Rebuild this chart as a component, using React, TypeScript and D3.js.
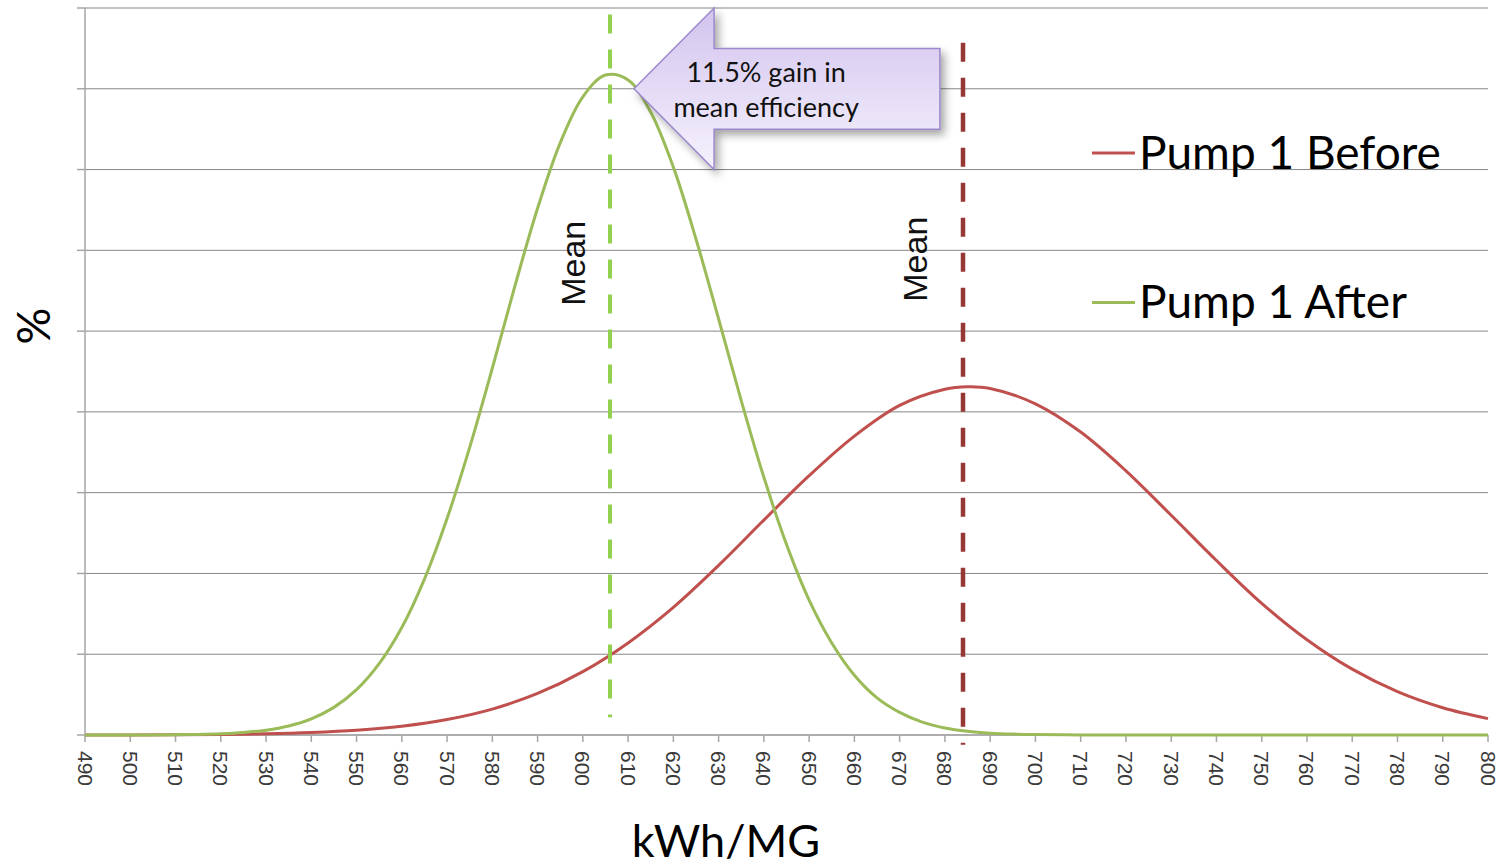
import React from 'react';
import * as d3 from 'd3';

// ---- data ----
const xTickValues = [490, 500, 510, 520, 530, 540, 550, 560, 570, 580, 590, 600, 610, 620, 630, 640, 650, 660, 670, 680, 690, 700, 710, 720, 730, 740, 750, 760, 770, 780, 790, 800];
const yGridValues = [0, 1, 2, 3, 4, 5, 6, 7, 8, 9];

const beforeX = [490, 500, 510, 520, 530, 540, 550, 560, 570, 580, 590, 600, 610, 620, 630, 640, 650, 660, 670, 680, 685, 690, 700, 710, 720, 730, 740, 750, 760, 770, 780, 790, 800];
const beforePct = [0.001, 0.001, 0.003, 0.007, 0.015, 0.031, 0.059, 0.109, 0.192, 0.321, 0.514, 0.784, 1.14, 1.58, 2.10, 2.66, 3.21, 3.70, 4.08, 4.28, 4.31, 4.29, 4.10, 3.75, 3.27, 2.72, 2.16, 1.63, 1.18, 0.815, 0.537, 0.338, 0.203];

const afterX = [490, 495, 500, 505, 510, 515, 520, 525, 530, 535, 540, 545, 550, 555, 560, 565, 570, 575, 580, 585, 590, 595, 600, 605, 610, 615, 620, 625, 630, 635, 640, 645, 650, 655, 660, 665, 670, 675, 680, 685, 690, 695, 700, 710, 720, 740, 760, 780, 800];
const afterPct = [0, 0, 0, 0.001, 0.003, 0.007, 0.015, 0.031, 0.06, 0.112, 0.20, 0.342, 0.561, 0.883, 1.33, 1.93, 2.68, 3.56, 4.54, 5.56, 6.52, 7.33, 7.90, 8.17, 8.11, 7.71, 7.03, 6.14, 5.15, 4.14, 3.19, 2.36, 1.67, 1.14, 0.74, 0.46, 0.28, 0.16, 0.087, 0.046, 0.023, 0.011, 0.005, 0.001, 0, 0, 0, 0, 0];

const beforeMean = 684;
const afterMean = 606;

const seriesNames = ['Pump 1 Before', 'Pump 1 After'];
const seriesColors = ['#C0504D', '#9BBB59'];
const meanColors = ['#953735', '#92D050'];

const calloutLines = ['11.5% gain in', 'mean efficiency'];

export default function App() {
  const W = 1505, H = 868;
  const x = d3.scaleLinear().domain([490, 800]).range([85, 1488]);
  const y = d3.scaleLinear().domain([0, 9]).range([735, 8]);

  const line = d3.line<[number, number]>()
    .x(d => x(d[0]))
    .y(d => Math.min(y(0), y(d[1])))
    .curve(d3.curveCatmullRom.alpha(0.5));

  const beforeData = beforeX.map((v, i) => [v, beforePct[i]] as [number, number]);
  const afterData = afterX.map((v, i) => [v, afterPct[i]] as [number, number]);

  // callout arrow, anchored in data units
  const tipX = x(611.3), tipY = y(8.0);
  const headX = x(629), endX = x(678.9);
  const headTop = y(9.0), headBot = y(7.0);
  const shaftTop = y(8.5), shaftBot = y(7.5);
  const arrowPath = `M${tipX},${tipY} L${headX},${headTop} L${headX},${shaftTop} L${endX},${shaftTop} L${endX},${shaftBot} L${headX},${shaftBot} L${headX},${headBot} Z`;

  const labelFont = 'Lato, "Open Sans", sans-serif';
  const tickFont = '"Liberation Sans", Arial, sans-serif';

  return (
    <div style={{ position: 'absolute', left: 0, top: 0 }}>
      <svg width={W} height={H} style={{ display: 'block', background: '#fff' }}>
        <defs>
          <linearGradient id="calloutFill" x1="0" y1="0" x2="0" y2="1">
            <stop offset="0%" stopColor="#D2C4EE" />
            <stop offset="100%" stopColor="#F6F2FD" />
          </linearGradient>
          <filter id="shadow" x="-20%" y="-20%" width="140%" height="150%">
            <feDropShadow dx="4" dy="5" stdDeviation="4" floodColor="#000" floodOpacity="0.35" />
          </filter>
        </defs>

        {/* gridlines */}
        {yGridValues.map(v => (
          <line key={'g' + v} x1={x(490)} x2={x(800)} y1={y(v)} y2={y(v)} stroke="#878787" strokeWidth={1} />
        ))}
        {/* y axis + ticks */}
        <line x1={x(490)} x2={x(490)} y1={y(9)} y2={y(0)} stroke="#A6A6A6" strokeWidth={1.5} />
        {yGridValues.map(v => (
          <line key={'yt' + v} x1={x(490) - 8} x2={x(490)} y1={y(v)} y2={y(v)} stroke="#A6A6A6" strokeWidth={1.5} />
        ))}
        {/* x axis */}
        <line x1={x(490)} x2={x(800)} y1={y(0)} y2={y(0)} stroke="#A6A6A6" strokeWidth={1.5} />
        {xTickValues.map(v => (
          <g key={'xt' + v}>
            <line x1={x(v)} x2={x(v)} y1={y(0)} y2={y(0) + 7} stroke="#A6A6A6" strokeWidth={1.5} />
            <text
              transform={`translate(${x(v)},${y(0) + 16}) rotate(90)`}
              dominantBaseline="central"
              textAnchor="start"
              fontFamily={tickFont}
              fontSize={21}
              fill="#3a3a3a"
            >{v}</text>
          </g>
        ))}

        {/* curves */}
        <path d={line(beforeData) || ''} fill="none" stroke={seriesColors[0]} strokeWidth={3} />
        <path d={line(afterData) || ''} fill="none" stroke={seriesColors[1]} strokeWidth={3} />

        {/* mean lines */}
        <line x1={x(afterMean)} x2={x(afterMean)} y1={y(8.92)} y2={y(0.22)} stroke={meanColors[1]} strokeWidth={4} strokeDasharray="19,16" />
        <line x1={x(beforeMean)} x2={x(beforeMean)} y1={y(8.57)} y2={y(-0.12)} stroke={meanColors[0]} strokeWidth={4.5} strokeDasharray="19,16" />

        {/* mean labels */}
        <text transform={`translate(${x(600.5)},${y(5.84)}) rotate(-90)`} textAnchor="middle" fontFamily={tickFont} fontSize={34} fill="#111">Mean</text>
        <text transform={`translate(${x(676)},${y(5.89)}) rotate(-90)`} textAnchor="middle" fontFamily={tickFont} fontSize={34} fill="#111">Mean</text>

        {/* callout */}
        <path d={arrowPath} fill="url(#calloutFill)" stroke="#9C88CC" strokeWidth={1.5} filter="url(#shadow)" />
        {calloutLines.map((t, i) => (
          <text key={t} x={x(640.5)} y={y(8.08) + i * 35} textAnchor="middle" fontFamily={labelFont} fontSize={27} fill="#111">{t}</text>
        ))}

        {/* legend */}
        {seriesNames.map((n, i) => (
          <g key={n}>
            <line x1={1092} x2={1135} y1={153 + i * 149.5} y2={153 + i * 149.5} stroke={seriesColors[i]} strokeWidth={3} />
            <text x={1139} y={168.5 + i * 149} fontFamily={labelFont} fontSize={46} fill="#000">{n}</text>
          </g>
        ))}

        {/* axis titles */}
        <text transform={`translate(50,326) rotate(-90)`} textAnchor="middle" fontFamily={labelFont} fontSize={46} fill="#000">%</text>
        <text x={726} y={857} textAnchor="middle" fontFamily={labelFont} fontSize={45} fill="#000">kWh/MG</text>
      </svg>
    </div>
  );
}
